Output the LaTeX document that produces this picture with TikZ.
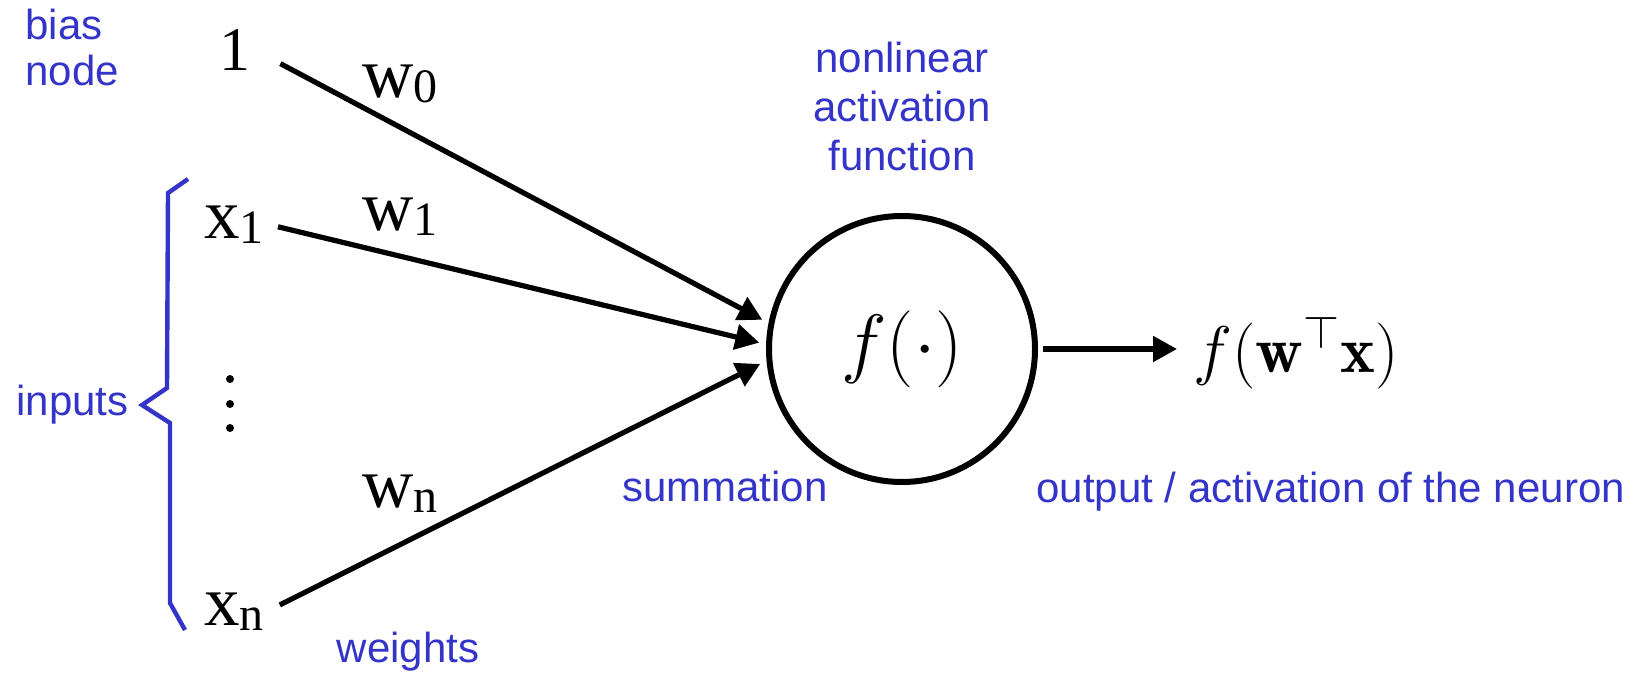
\RequirePackage{fix-cm}
\documentclass[tikz,border=0pt]{standalone}
\usepackage{xcolor}
\definecolor{cBlue}{HTML}{3434C8}
\usepackage{fontspec}
\newfontfamily\labelfont{Liberation Sans}
\newfontfamily\varfont{Liberation Serif}
\usepackage{tikz}
\usetikzlibrary{arrows.meta}
\newcommand{\invar}[2]{#1{\fontsize{24}{24}\selectfont\raisebox{-2.5pt}{#2}}}
\tikzset{
  node-label/.style={text=cBlue,inner sep=0pt,
    font=\labelfont\fontsize{21}{24.5}\selectfont},
  node-var/.style={inner sep=1.5pt,font=\varfont\fontsize{35.5}{36}\selectfont},
  node-neuron/.style={draw,circle,line width=3pt,minimum size=133pt,
    inner sep=0pt,font=\fontsize{38.5}{38.5}\selectfont},
  arrow/.style={-{Triangle[length=12pt,width=12.5pt]},line width=2.6pt},
  brace/.style={draw=cBlue,line width=2.2pt},
}

\begin{document}
\begin{tikzpicture}[x=0.5pt,y=-0.5pt]
  \useasboundingbox (0,0) rectangle (1645,680);
  % neuron
  \node[node-neuron] (neuron) at (902,349) {$f(\cdot)$};
  \node[anchor=base west,inner sep=3pt,font=\fontsize{33}{33}\selectfont]
    (out) at (1187,372) {$f(\mathbf{w}^\top\mathbf{x})$};
  % inputs and weights
  \node[node-var,font=\varfont\fontsize{31}{31}\selectfont,anchor=base]
    (one) at (235,70) {1};
  \node[node-var,anchor=base west] (x1) at (201,238) {\invar{x}{1}};
  \node[node-var,anchor=base west] (xn) at (201,625) {\invar{x}{n}};
  \foreach \y in {379,404,428} \fill (230,\y) circle (2pt);
  \node[node-var,anchor=base west] (w0) at (359,97) {\invar{w}{0}};
  \node[node-var,anchor=base west] (w1) at (359,230) {\invar{w}{1}};
  \node[node-var,anchor=base west] (wn) at (359,507) {\invar{w}{n}};
  % arrows
  \draw[arrow,shorten <=15pt,shorten >=3.5pt] (one.east) -- (neuron.169);
  \draw[arrow,shorten <=5.5pt,shorten >=3.5pt] (x1.east) -- (neuron.178);
  \draw[arrow,shorten <=7pt,shorten >=3.5pt] (xn.east) -- (neuron.185);
  \draw[arrow,shorten <=2.5pt,shorten >=5pt] (neuron) -- (neuron -| out.west);
  % blue notes
  \draw[brace] (188,179) -- (168,193) -- (167,388) -- (142,405)
    -- (170,423) -- (170,603) -- (185,630);
  \node[node-label,anchor=north west,align=left,
    font=\labelfont\fontsize{21}{23}\selectfont] (bias) at (25,9) {bias\\node};
  \node[node-label,anchor=north,align=center] (act) at (902,42)
    {nonlinear\\activation\\function};
  \node[node-label,anchor=base west] (inputs) at (16,415) {inputs};
  \node[node-label,anchor=base east] (sum) at (828,501) {summation};
  \node[node-label,anchor=base west] (outlabel) at (1036,502)
    {output / activation of the neuron};
  \node[node-label,anchor=base] (weights) at (408,662) {weights};
\end{tikzpicture}
\end{document}
